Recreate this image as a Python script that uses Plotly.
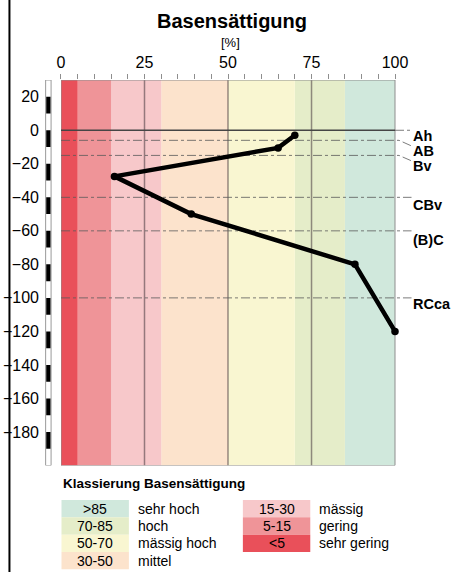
import plotly.graph_objects as go

W, H = 453, 572

# Basensättigung profile: depth [cm] and base saturation [%]
depth = [-3, -10.5, -27.5, -50, -80, -120]
base_sat = [70, 65, 16, 39, 88, 100]

# soil horizons: upper boundary [cm] and name
horizon_names = ["Ah", "AB", "Bv", "CBv", "(B)C", "RCca"]
horizon_tops = [0, -6, -15, -40, -60, -100]

# classification of base saturation
class_lo = [85, 70, 50, 30, 15, 5, 0]
class_hi = [100, 85, 70, 50, 30, 15, 5]
class_range = [">85", "70-85", "50-70", "30-50", "15-30", "5-15", "<5"]
class_name = ["sehr hoch", "hoch", "mässig hoch", "mittel", "mässig", "gering", "sehr gering"]
class_color = ["#d0e8dc", "#e5edc9", "#f9f6d1", "#fce3cc", "#f7c8ca", "#ef9498", "#e9505a"]

x_ticks = list(range(0, 101, 5))
x_labels = [str(v) if v % 25 == 0 else "" for v in x_ticks]
y_ticks = list(range(20, -181, -20))
grid_x = [25, 50, 75]

X_MIN, X_MAX, X_EXT = 0, 100, 105
Y_MIN, Y_MAX = -200, 30

FONT = "Liberation Sans, Arial, sans-serif"


def px(x):
    return x / W


def py(y):
    return 1 - y / H


# plot area in pixels
left_px, top_px, bottom_px = 57.5, 80, 465.5
right_px = left_px + (394.5 - left_px) * X_EXT / X_MAX

shapes = []

# coloured class bands
for lo, hi, col in zip(class_lo, class_hi, class_color):
    shapes.append(dict(type="rect", xref="x", yref="y", x0=lo, x1=hi, y0=Y_MIN, y1=Y_MAX,
                       fillcolor=col, line=dict(width=0), layer="below"))

# vertical grid lines
for gx in grid_x:
    shapes.append(dict(type="line", xref="x", yref="y", x0=gx, x1=gx, y0=Y_MIN, y1=Y_MAX,
                       line=dict(color="rgba(70,55,60,0.55)", width=1.5), layer="below"))

# plot frame
shapes.append(dict(type="rect", xref="x", yref="y", x0=X_MIN, x1=X_MAX, y0=Y_MIN, y1=Y_MAX,
                   line=dict(color="#8e8e8e", width=1), fillcolor="rgba(0,0,0,0)", layer="below"))

# horizon boundaries
leader_drop = {"AB": 3.4, "Bv": 3.3}
for name, d in zip(horizon_names, horizon_tops):
    if d == 0:
        shapes.append(dict(type="line", xref="x", yref="y", x0=X_MIN, x1=X_MAX, y0=d, y1=d,
                           line=dict(color="#454545", width=1.5), layer="between"))
        shapes.append(dict(type="line", xref="x", yref="y", x0=X_MAX, x1=X_EXT, y0=d, y1=d,
                           line=dict(color="rgba(90,90,90,0.8)", width=1, dash="dashdot"),
                           layer="between"))
    else:
        drop = leader_drop.get(name, 0)
        if drop:
            path = f"M {X_MIN},{d} L {X_MAX + 1.2},{d} L {X_EXT},{d - drop}"
        else:
            path = f"M {X_MIN},{d} L {X_EXT},{d}"
        shapes.append(dict(type="path", xref="x", yref="y", path=path,
                           line=dict(color="rgba(90,90,90,0.8)", width=1, dash="dashdot"),
                           layer="between"))

# depth ruler (alternating 10 cm segments)
rx0, rx1 = px(42), px(47.5)
shapes.append(dict(type="rect", xref="paper", yref="y", x0=rx0, x1=rx1, y0=Y_MIN, y1=Y_MAX,
                   fillcolor="white", line=dict(color="#9a9a9a", width=1)))
for top in range(20, Y_MIN, -20):
    shapes.append(dict(type="rect", xref="paper", yref="y", x0=rx0 + px(0.6), x1=rx1 - px(0.6),
                       y0=top - 10, y1=top, fillcolor="black", line=dict(width=0)))

# left frame line
shapes.append(dict(type="line", xref="paper", yref="paper", x0=px(5.5), x1=px(5.5), y0=0, y1=1,
                   line=dict(color="black", width=2)))

annotations = [
    dict(text="<b>Basensättigung</b>", x=px(230), y=py(21), xref="paper", yref="paper",
         showarrow=False, font=dict(family=FONT, size=20, color="black"),
         xanchor="center", yanchor="middle"),
    dict(text="[%]", x=px(229), y=py(42), xref="paper", yref="paper",
         showarrow=False, font=dict(family=FONT, size=13, color="black"),
         xanchor="center", yanchor="middle"),
]

# horizon labels
label_shift = [6, 11, 11, 8, 9, 6]
for name, d, s in zip(horizon_names, horizon_tops, label_shift):
    annotations.append(dict(text=f"<b>{name}</b>", x=X_EXT, y=d, xref="x", yref="y",
                            showarrow=False, xanchor="left", yanchor="middle", yshift=-s,
                            borderpad=0,
                            font=dict(family=FONT, size=14.5, color="black")))

# classification legend
annotations.append(dict(text="<b>Klassierung Basensättigung</b>", x=px(58), y=py(483),
                        xref="paper", yref="paper", showarrow=False, xanchor="left",
                        yanchor="middle", font=dict(family=FONT, size=13.5, color="black")))
box_left = [58, 241]
label_left = [133, 316]
box_w, row_h, row0 = 68, 17.33, 500
for i, (rng, nm, col) in enumerate(zip(class_range, class_name, class_color)):
    c = 0 if i < 4 else 1
    r = i if i < 4 else i - 4
    y0 = row0 + r * row_h
    shapes.append(dict(type="rect", xref="paper", yref="paper",
                       x0=px(box_left[c]), x1=px(box_left[c] + box_w),
                       y0=py(y0 + row_h), y1=py(y0), fillcolor=col, line=dict(width=0)))
    annotations.append(dict(text=rng, x=px(box_left[c] + box_w / 2), y=py(y0 + row_h / 2),
                            xref="paper", yref="paper", showarrow=False,
                            xanchor="center", yanchor="middle",
                            font=dict(family=FONT, size=14, color="black")))
    annotations.append(dict(text=nm, x=px(label_left[c]), y=py(y0 + row_h / 2),
                            xref="paper", yref="paper", showarrow=False,
                            xanchor="left", yanchor="middle",
                            font=dict(family=FONT, size=14, color="black")))

fig = go.Figure()
fig.add_trace(go.Scatter(x=base_sat, y=depth, mode="lines+markers",
                         line=dict(color="black", width=4.5),
                         marker=dict(color="black", size=7.5),
                         cliponaxis=False, hoverinfo="skip", showlegend=False))

fig.update_layout(
    width=W, height=H,
    margin=dict(l=0, r=0, t=0, b=0),
    paper_bgcolor="white", plot_bgcolor="white",
    showlegend=False,
    font=dict(family=FONT, color="black"),
    xaxis=dict(domain=[px(left_px), px(right_px)], range=[X_MIN, X_EXT], side="top",
               tickmode="array", tickvals=x_ticks, ticktext=x_labels,
               ticks="outside", ticklen=5, tickwidth=1, tickcolor="#8e8e8e",
               tickfont=dict(family=FONT, size=16, color="black"),
               showgrid=False, zeroline=False, showline=False, fixedrange=True),
    yaxis=dict(domain=[py(bottom_px), py(top_px)], range=[Y_MIN, Y_MAX],
               tickmode="array", tickvals=y_ticks, ticks="",
               ticklabelstandoff=21,
               tickfont=dict(family=FONT, size=16, color="black"),
               showgrid=False, zeroline=False, showline=False, fixedrange=True),
    shapes=shapes,
    annotations=annotations,
)

fig.write_html("out.html")
